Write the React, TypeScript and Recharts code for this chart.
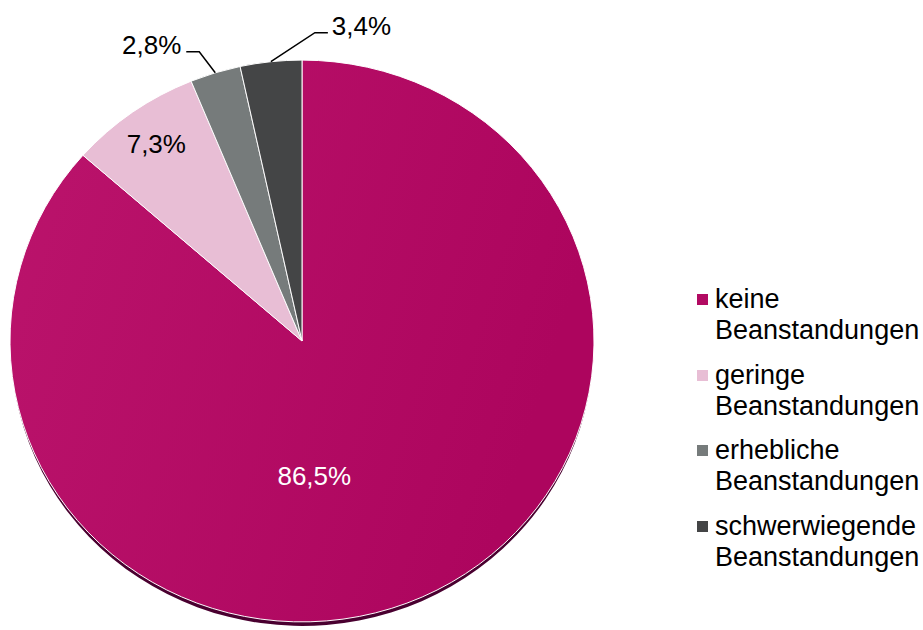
import React from "react";
import { PieChart, Pie, Cell, Legend, Sector } from "recharts";

const categories = [
  "keine Beanstandungen",
  "geringe Beanstandungen",
  "erhebliche Beanstandungen",
  "schwerwiegende Beanstandungen",
];
const legendLines = [
  ["keine", "Beanstandungen"],
  ["geringe", "Beanstandungen"],
  ["erhebliche", "Beanstandungen"],
  ["schwerwiegende", "Beanstandungen"],
];
const shares = [86.5, 7.3, 2.8, 3.4];
const labels = ["86,5%", "7,3%", "2,8%", "3,4%"];

const colors = ["url(#keineGrad)", "#e8bed5", "#767b7b", "#444546"];
const legendColors = ["#b20a62", "#e8bed5", "#767b7b", "#444546"];

const data = categories.map((name, i) => ({ name, value: shares[i] }));

const FONT = '"Liberation Sans", Arial, sans-serif';
const RAD = Math.PI / 180;
// the disc is drawn slightly flattened, as in the original
const SY = 0.962;

// label placement per slice: inside ones by polar position, outside ones with a leader
const labelStyle: Record<number, any> = {
  0: { inside: true, angle: -85, r: 0.483, fill: "#ffffff" },
  1: { inside: true, r: 0.86, fill: "#000000" },
  2: { inside: false, elbow: [-16, -21], run: -13, side: "left" },
  3: { inside: false, elbow: [44, -29], run: 13, side: "right" },
};

function FlatSector(props: any) {
  const { cx, cy } = props;
  return (
    <g transform={`translate(${cx},${cy}) scale(1,${SY}) translate(${-cx},${-cy})`}>
      <Sector {...props} />
    </g>
  );
}

function renderLabel(props: any) {
  const { cx, cy, midAngle, outerRadius, index } = props;
  const s = labelStyle[index];
  if (s.inside) {
    const a = (s.angle ?? midAngle) * RAD;
    const x = cx + outerRadius * s.r * Math.cos(a);
    const y = cy - outerRadius * s.r * Math.sin(a) * SY;
    return (
      <text x={x} y={y} fill={s.fill} fontSize={26} fontFamily={FONT} textAnchor="middle" dominantBaseline="central">
        {labels[index]}
      </text>
    );
  }
  const a = midAngle * RAD;
  const x0 = cx + outerRadius * Math.cos(a);
  const y0 = cy - outerRadius * Math.sin(a) * SY;
  const x1 = x0 + s.elbow[0];
  const y1 = y0 + s.elbow[1];
  const x2 = x1 + s.run;
  return (
    <g>
      <polyline points={`${x0},${y0} ${x1},${y1} ${x2},${y1}`} fill="none" stroke="#000" strokeWidth={1.5} />
      <text
        x={s.side === "left" ? x2 - 5 : x2 + 4}
        y={y1 + 2}
        fill="#000"
        fontSize={26}
        fontFamily={FONT}
        textAnchor={s.side === "left" ? "end" : "start"}
      >
        {labels[index]}
      </text>
    </g>
  );
}

function LegendBox() {
  return (
    <div style={{ fontFamily: FONT, fontSize: 27, color: "#000" }}>
      {legendLines.map((lines, i) => (
        <div key={i} style={{ position: "relative", paddingLeft: 18, marginBottom: 13.5, lineHeight: "31px" }}>
          <span
            style={{
              position: "absolute",
              left: 0,
              top: 10,
              width: 11,
              height: 11,
              background: legendColors[i],
            }}
          />
          <div>{lines[0]}</div>
          <div>{lines[1]}</div>
        </div>
      ))}
    </div>
  );
}

export default function App() {
  return (
    <div style={{ position: "absolute", left: 0, top: 0, width: 923, height: 630, background: "#fff" }}>
      <PieChart width={923} height={630} margin={{ top: 0, right: 0, bottom: 0, left: 0 }}>
        <defs>
          <linearGradient id="keineGrad" x1="0" y1="0" x2="1" y2="0.3">
            <stop offset="0%" stopColor="#bb146c" />
            <stop offset="100%" stopColor="#ad055e" />
          </linearGradient>
        </defs>
        {/* dark rim below the disc */}
        <Pie
          data={data}
          dataKey="value"
          cx={302}
          cy={346}
          outerRadius={291}
          startAngle={90}
          endAngle={-270}
          stroke="none"
          fill="#4a0030"
          shape={FlatSector}
          legendType="none"
          isAnimationActive={false}
        />
        <Pie
          data={data}
          dataKey="value"
          nameKey="name"
          cx={302}
          cy={341}
          outerRadius={292}
          startAngle={90}
          endAngle={-270}
          stroke="#ffffff"
          strokeWidth={1}
          shape={FlatSector}
          label={renderLabel}
          labelLine={false}
          isAnimationActive={false}
        >
          {data.map((d, i) => (
            <Cell key={d.name} fill={colors[i]} />
          ))}
        </Pie>
        <Legend
          content={() => <LegendBox />}
          wrapperStyle={{ position: "absolute", left: 697, top: 284, width: 226 }}
        />
      </PieChart>
    </div>
  );
}
